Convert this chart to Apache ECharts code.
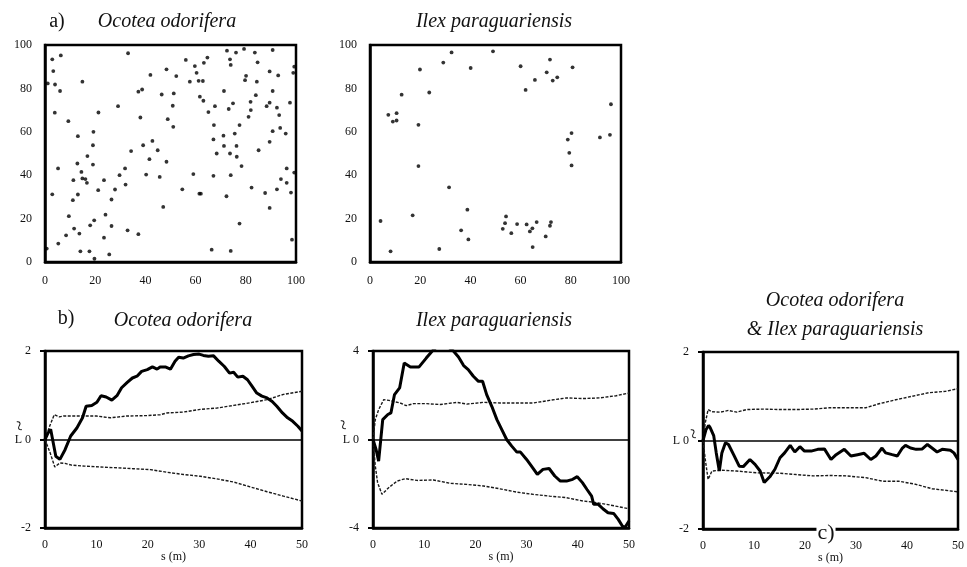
<!DOCTYPE html>
<html>
<head>
<meta charset="utf-8">
<script src="https://cdn.jsdelivr.net/npm/echarts@6/dist/echarts.min.js"></script>
<style>
  html, body { margin: 0; padding: 0; background: #fff; }
  #chart { width: 967px; height: 567px; }
</style>
</head>
<body>
<div id="chart"></div>
<script>
// ---- tree positions in the 100 x 100 m plot (x, y in metres) ----
const ocoteaXY = [
  [0.7,6.2],[1.1,82.3],[2.9,93.4],[3.3,88],[4,81.8],[3.9,68.8],[6.3,95.2],[6,78.8],[2.9,31.2],[5.2,43.1],
  [5.3,8.5],[9.3,64.9],[8.4,12.3],[9.5,21.1],[11.3,37.7],[11.1,28.5],[11.6,15.4],[12.9,45.4],[13.1,58],[13.1,31.1],
  [13.7,13.1],[14.1,4.9],[14.5,41.5],[14.9,83.1],[14.9,38.5],[16.1,38.2],[16.7,36.5],[16.9,48.8],[17.7,4.9],[18,16.9],
  [19.1,53.8],[19.3,60],[19.1,44.9],[19.6,19.2],[19.7,1.5],[21.3,68.9],[21.2,33.1],[23.5,37.7],[23.5,11.2],[24.1,21.8],
  [25.6,3.5],[26.5,28.8],[26.5,16.6],[27.9,33.4],[29.1,71.8],[29.7,40],[31.9,43.1],[32.1,35.7],[33.1,96.2],[32.9,14.6],
  [34.3,51.1],[37.2,78.5],[37.2,12.8],[38,66.6],[38.7,79.5],[39.1,53.8],[40.3,40.3],[41.6,47.4],[42,86.2],[42.8,55.8],
  [44.9,51.5],[45.7,39.2],[46.5,77.2],[47.1,25.4],[48.4,88.8],[48.4,46.2],[48.9,65.8],[50.9,72],[51.1,62.3],[51.3,77.7],
  [52.3,85.7],[54.7,33.5],[56.1,93.1],[57.7,83.1],[59.1,40.5],[59.7,90.3],[60.4,87.2],[61.2,83.5],[61.5,31.5],[62.1,31.5],
  [62.9,83.4],[61.7,76.2],[63.1,74.3],[63.3,91.8],[64.7,94.2],[65.1,69.1],[66.4,5.7],[67.1,56.5],[67.3,63.1],[67.1,39.7],
  [67.7,71.8],[68.4,50],[71.1,58.2],[71.3,53.5],[71.3,78.8],[72.3,30.3],[72.5,97.4],[73.2,70.5],[73.7,93.4],[73.7,50],
  [74,40],[74,90.8],[74,5.1],[74.9,73.1],[75.6,59.2],[76.1,96.5],[76.3,53.5],[76.4,48.5],[77.5,63.1],[77.5,17.7],
  [78.3,44.2],[79.3,98.2],[79.7,83.8],[80.1,85.8],[81.1,66.9],[81.9,73.8],[82,70],[82.3,34.3],[83.6,96.5],[84,76.9],
  [84.4,83.1],[84.7,92],[85.1,51.5],[87.7,31.8],[88.3,71.8],[89.5,87.8],[89.5,73.4],[89.5,55.4],[89.5,24.9],[90.7,97.7],
  [90.7,78.8],[90.7,60.3],[92.4,71.1],[92.4,33.5],[92.9,86],[93.3,67.7],[93.7,61.8],[94,38.2],[95.9,59.2],[96.3,43.1],
  [96.3,36.5],[97.6,73.4],[98,32],[98.4,10.3],[98.9,87.2],[99.3,90],[99.3,41.2]
];

const ilexXY = [
  [4.2,18.9],[7.3,67.8],[8.2,4.9],[9.1,64.7],[10.6,68.6],[10.6,65.2],[12.6,77.1],[17,21.5],[19.3,63.2],[19.3,44.2],
  [19.9,88.7],[23.6,78.1],[27.6,6],[29.2,91.9],[31.5,34.4],[32.5,96.6],[36.3,14.6],[38.8,24.1],[39.2,10.4],[40.1,89.4],
  [49,97.1],[52.9,15.3],[53.8,17.9],[54.2,21],[56.3,13.3],[58.6,17.5],[60,90.2],[62,79.3],[62.4,17.3],[63.7,14.1],
  [64.7,15.5],[64.8,6.9],[65.7,83.9],[66.4,18.4],[70,11.8],[70.4,87.4],[71.7,93.3],[71.7,16.7],[72.1,18.4],[72.8,83.6],
  [74.6,85.1],[78.8,56.4],[79.4,50.3],[80.3,59.4],[80.3,44.5],[80.7,89.7],[91.6,57.4],[95.6,58.6],[96,72.7]
];

// ---- L-function (s in m, L value) ----
const ocoteaL = [
  [0,0],[0.6,0.15],[1.1,0.23],[2.1,-0.38],[2.9,-0.45],[3.9,-0.23],[5,0.08],[6.2,0.26],[7.3,0.49],[8,0.75],
  [9.1,0.77],[10.1,0.84],[10.9,0.99],[11.9,0.96],[13,0.89],[14,0.99],[14.9,1.17],[16,1.29],[17,1.39],[17.9,1.43],
  [18.8,1.54],[19.9,1.58],[20.9,1.64],[21.8,1.59],[22.4,1.64],[23.4,1.64],[24.4,1.59],[25.3,1.77],[26,1.86],[26.9,1.84],
  [27.9,1.89],[28.9,1.92],[30,1.93],[30.8,1.9],[31.8,1.88],[32.8,1.89],[33.8,1.77],[34.9,1.65],[35.9,1.5],[36.7,1.52],
  [37.5,1.41],[38.5,1.43],[39.4,1.35],[40.3,1.2],[41.2,1.05],[42.2,0.98],[43.2,0.94],[44.2,0.86],[45.1,0.75],[46.2,0.6],
  [47.2,0.49],[48.2,0.41],[49.2,0.3],[50,0.19]
];
const ocoteaUpper = [
  [0,0],[0.9,0.3],[1.8,0.56],[2.8,0.51],[3.6,0.53],[5.8,0.53],[10,0.53],[12.7,0.49],[15.9,0.53],[19.8,0.54],
  [22.4,0.56],[23.7,0.6],[26.9,0.62],[30.2,0.68],[33.4,0.71],[36.7,0.77],[39.9,0.83],[43.2,0.9],[46.4,1.02],[50,1.09]
];
const ocoteaLower = [
  [0,0],[1,-0.3],[1.9,-0.62],[2.9,-0.53],[3.9,-0.54],[5.2,-0.58],[7.5,-0.6],[10.7,-0.62],[14,-0.64],[17.2,-0.66],
  [20.5,-0.68],[23.7,-0.74],[26.9,-0.79],[30.2,-0.83],[33.4,-0.89],[36.7,-0.96],[39.9,-1.07],[43.2,-1.18],[46.4,-1.28],[50,-1.39]
];

const ilexL = [
  [0,0],[0.6,-0.45],[1.1,-0.98],[1.4,-0.9],[1.9,0.9],[2.9,1.13],[3.5,1.2],[4.2,2.03],[5.2,2.33],[6.1,3.46],
  [7.3,3.28],[9,3.28],[10.4,3.68],[11.5,3.98],[12.5,4.2],[13.5,4.3],[14.6,4.2],[15.7,4],[16.7,3.73],[17.7,3.34],
  [18.6,3.16],[19.6,2.86],[20.6,2.63],[21.4,2.63],[22.2,2.03],[23.2,1.5],[24.2,0.9],[25.3,0.38],[26.1,0],[27.1,-0.3],
  [28.1,-0.57],[28.8,-0.57],[30,-0.9],[31.2,-1.28],[32.1,-1.58],[33.2,-1.35],[34.4,-1.31],[35.5,-1.65],[36.6,-1.88],[37.8,-1.88],
  [39,-1.8],[39.9,-1.68],[40.9,-1.95],[41.8,-2.26],[42.7,-2.56],[43.1,-2.93],[44,-2.93],[44.9,-3.13],[45.9,-3.31],[47,-3.34],
  [47.9,-3.61],[48.7,-3.91],[49.2,-3.98],[50,-3.68]
];
const ilexUpper = [
  [0,0],[0.45,0.9],[1.1,1.35],[2.1,1.8],[3.1,1.77],[5.3,1.65],[6.5,1.53],[7.9,1.62],[10.5,1.62],[13.1,1.58],
  [16.4,1.68],[18.3,1.6],[21.6,1.68],[24.8,1.65],[28.1,1.65],[31.3,1.65],[34.5,1.77],[37.8,1.88],[41,1.85],[44.3,1.88],
  [47.5,1.98],[50,2.1]
];
const ilexLower = [
  [0,0],[0.45,-1.2],[0.9,-1.95],[1.75,-2.48],[3.05,-2.18],[4.7,-1.88],[6.3,-1.77],[8.6,-1.85],[11.8,-1.83],[15.1,-1.98],
  [18.3,-2.03],[21.6,-2.1],[24.8,-2.23],[28.1,-2.38],[31.3,-2.48],[34.5,-2.56],[37.8,-2.63],[41,-2.78],[43,-2.83],[45.6,-2.93],
  [50,-3.13]
];

const crossL = [
  [0,0],[0.6,0.25],[1.1,0.34],[1.4,0.29],[2.1,0.11],[2.6,-0.28],[3.2,-0.69],[3.7,-0.28],[4.4,-0.05],[5,-0.09],
  [6,-0.32],[7.1,-0.58],[7.9,-0.59],[9.2,-0.43],[10.2,-0.54],[11.2,-0.69],[12,-0.95],[13.1,-0.82],[14.1,-0.65],[15.1,-0.39],
  [16,-0.28],[17.1,-0.11],[18,-0.26],[19,-0.14],[19.9,-0.24],[21.2,-0.24],[22.5,-0.2],[23.8,-0.19],[25.1,-0.43],[26.1,-0.32],
  [27.7,-0.2],[29,-0.35],[30.3,-0.32],[31.6,-0.29],[32.9,-0.43],[33.9,-0.35],[35.1,-0.17],[35.8,-0.28],[37.1,-0.32],[38.1,-0.35],
  [39.1,-0.17],[39.7,-0.11],[40.7,-0.17],[41.8,-0.2],[43,-0.19],[44,-0.09],[44.9,-0.17],[45.9,-0.26],[46.9,-0.2],[48.5,-0.22],
  [49.2,-0.28],[50,-0.43]
];
const crossUpper = [
  [0,0],[0.45,0.4],[1,0.7],[1.75,0.65],[3.4,0.64],[5,0.68],[6.6,0.64],[8.6,0.7],[11.8,0.71],[15.1,0.7],
  [18.3,0.7],[21.6,0.71],[24.8,0.74],[28.1,0.74],[31.9,0.74],[34.5,0.83],[37.8,0.92],[41,1],[44.3,1.08],[47.5,1.11],
  [50,1.17]
];
const crossLower = [
  [0,0],[0.45,-0.43],[1,-0.88],[1.75,-0.69],[3.4,-0.67],[6.6,-0.69],[10.5,-0.73],[15.1,-0.74],[18.3,-0.77],[21.6,-0.8],
  [24.8,-0.79],[28.1,-0.8],[31.9,-0.84],[35.2,-0.92],[38.4,-0.92],[41.7,-0.99],[44.9,-1.09],[50,-1.16]
];

// axis ranges
const plotRange = { min: 0, max: 100, interval: 20 };
const distRange = { min: 0, max: 50, interval: 10 };
const lRanges = [
  { min: -2, max: 2, interval: 2 },
  { min: -4, max: 4, interval: 4 },
  { min: -2, max: 2, interval: 2 }
];

const FONT = "'Liberation Serif', 'Times New Roman', serif";
const chart = echarts.init(document.getElementById('chart'));

const boxes = [
  { left: 45,  top: 45,  width: 251, height: 217 },
  { left: 370, top: 45,  width: 251, height: 217 },
  { left: 45,  top: 351, width: 257, height: 177 },
  { left: 373, top: 351, width: 256, height: 177 },
  { left: 703, top: 352, width: 256, height: 177 }
];

const grid = boxes.map(b => Object.assign({
  show: true, borderColor: '#000', borderWidth: 2.5, backgroundColor: 'transparent'
}, b));

const labelStyle = { color: '#111', fontFamily: FONT, fontSize: 12 };
const frameLine = { show: true, onZero: false, lineStyle: { color: '#000', width: 2.5 } };

const xAxis = [0, 1].map(i => Object.assign({
  type: 'value', gridIndex: i,
  axisLine: frameLine, axisTick: { show: false }, splitLine: { show: false },
  axisLabel: Object.assign({ margin: 13 }, labelStyle)
}, plotRange)).concat([2, 3, 4].map(i => Object.assign({
  type: 'value', gridIndex: i,
  name: 's (m)', nameLocation: 'middle', nameGap: 23, nameMoveOverlap: false,
  nameTextStyle: { color: '#111', fontFamily: FONT, fontSize: 12 },
  axisLine: frameLine, axisTick: { show: false }, splitLine: { show: false },
  axisLabel: Object.assign({ margin: 11 }, labelStyle)
}, distRange)));

const yAxis = [0, 1].map(i => Object.assign({
  type: 'value', gridIndex: i,
  axisLine: frameLine, axisTick: { show: false }, splitLine: { show: false },
  axisLabel: Object.assign({ margin: 13 }, labelStyle)
}, plotRange)).concat([2, 3, 4].map((i, k) => Object.assign({
  type: 'value', gridIndex: i,
  name: 'L', nameLocation: 'middle', nameRotate: 0, nameGap: 23, nameMoveOverlap: false,
  nameTextStyle: { color: '#111', fontFamily: FONT, fontSize: 12 },
  axisLine: frameLine,
  axisTick: { show: true, inside: false, length: 5, lineStyle: { color: '#000', width: 2 } },
  splitLine: { show: false },
  axisLabel: Object.assign({ margin: 14 }, labelStyle)
}, lRanges[k])));

function treeSeries(data, idx) {
  return {
    type: 'scatter', xAxisIndex: idx, yAxisIndex: idx, data: data,
    symbol: 'circle', symbolSize: 3.8, itemStyle: { color: '#000' }, silent: true
  };
}
function envelope(data, idx) {
  return {
    type: 'line', xAxisIndex: idx, yAxisIndex: idx, data: data,
    showSymbol: false, symbol: 'none', silent: true,
    lineStyle: { color: '#1a1a1a', width: 1.4, type: [3, 1.5] }
  };
}
function observed(data, idx) {
  return {
    type: 'line', xAxisIndex: idx, yAxisIndex: idx, data: data,
    showSymbol: false, symbol: 'none', silent: true, clip: true, z: 5,
    lineStyle: { color: '#000', width: 3 },
    markLine: {
      silent: true, symbol: ['none', 'none'], label: { show: false },
      lineStyle: { color: '#000', width: 1.6, type: 'solid' },
      data: [{ yAxis: 0 }]
    }
  };
}

const series = [
  treeSeries(ocoteaXY, 0),
  treeSeries(ilexXY, 1),
  envelope(ocoteaUpper, 2), envelope(ocoteaLower, 2), observed(ocoteaL, 2),
  envelope(ilexUpper, 3), envelope(ilexLower, 3), observed(ilexL, 3),
  envelope(crossUpper, 4), envelope(crossLower, 4), observed(crossL, 4)
];

const titleFont = { fill: '#111', fontFamily: FONT, fontSize: 20, fontStyle: 'italic', textAlign: 'center', textVerticalAlign: 'middle' };
const plainFont = { fill: '#111', fontFamily: FONT, fontSize: 20, textAlign: 'center', textVerticalAlign: 'middle' };
function label(x, y, text, style) {
  return { type: 'text', x: x, y: y, z: 50, style: Object.assign({ text: text }, style) };
}
// the tilde sitting over the L of each L-axis
function tilde(x, y) {
  return { type: 'text', x: x, y: y, rotation: -Math.PI / 2.3, z: 50,
    style: { text: '~', fill: '#111', fontFamily: FONT, fontSize: 20, textAlign: 'center', textVerticalAlign: 'middle' } };
}

const graphic = [
  label(57, 22, 'a)', plainFont),
  label(167, 22, 'Ocotea odorifera', titleFont),
  label(494, 22, 'Ilex paraguariensis', titleFont),
  label(66, 319, 'b)', plainFont),
  label(183, 321, 'Ocotea odorifera', titleFont),
  label(494, 321, 'Ilex paraguariensis', titleFont),
  label(835, 301, 'Ocotea odorifera', titleFont),
  label(835, 330, '& Ilex paraguariensis', titleFont),
  tilde(18, 426), tilde(342, 425), tilde(692, 434),
  { type: 'text', x: 826, y: 533, z: 60,
    style: { text: 'c)', fill: '#111', fontFamily: FONT, fontSize: 22, textAlign: 'center', textVerticalAlign: 'middle',
      backgroundColor: '#fff', padding: [0, 1] } }
];

chart.setOption({
  animation: false,
  backgroundColor: '#fff',
  textStyle: { fontFamily: FONT },
  grid: grid,
  xAxis: xAxis,
  yAxis: yAxis,
  series: series,
  graphic: graphic
});
</script>
</body>
</html>
